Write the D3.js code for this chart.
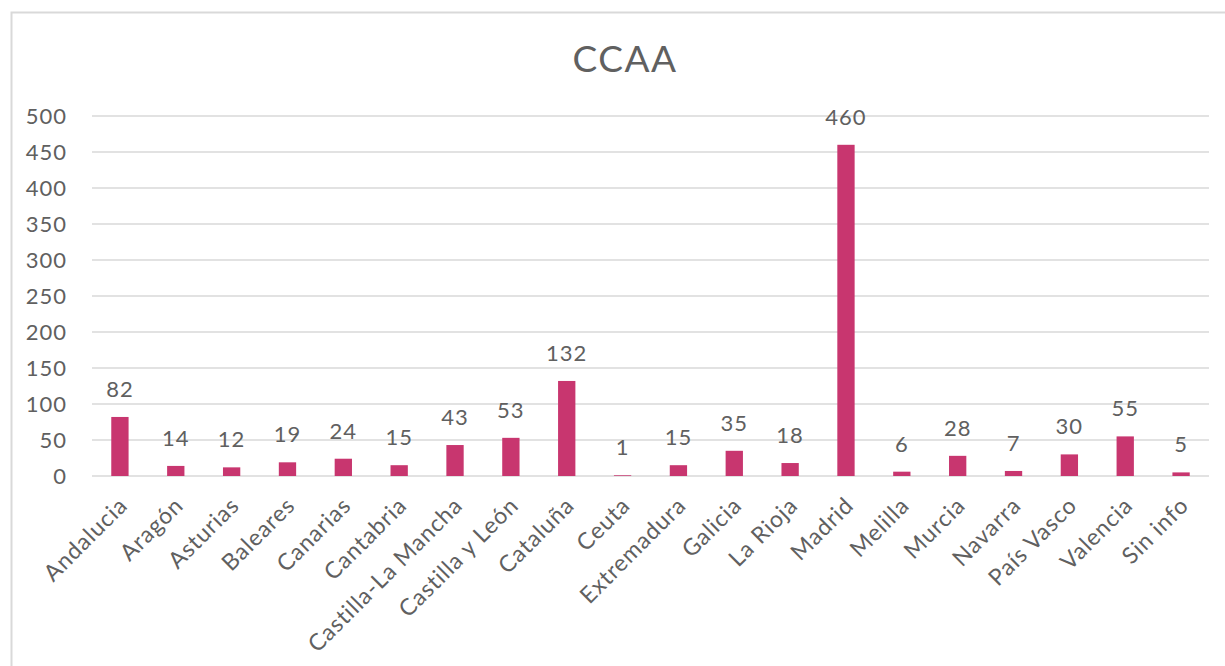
<!DOCTYPE html>
<html>
<head>
<meta charset="utf-8">
<script src="https://cdn.jsdelivr.net/npm/d3@7"></script>
<style>
  body { margin: 0; background: #fff; }
  svg text { font-family: Lato, "Open Sans", sans-serif; fill: #606060; }
</style>
</head>
<body>
<div id="chart"></div>
<script>
"use strict";

var categories = ["Andalucia", "Aragón", "Asturias", "Baleares", "Canarias", "Cantabria",
  "Castilla-La Mancha", "Castilla y León", "Cataluña", "Ceuta", "Extremadura", "Galicia",
  "La Rioja", "Madrid", "Melilla", "Murcia", "Navarra", "País Vasco", "Valencia", "Sin info"];
var values = [82, 14, 12, 19, 24, 15, 43, 53, 132, 1, 15, 35, 18, 460, 6, 28, 7, 30, 55, 5];
var yTicks = [0, 50, 100, 150, 200, 250, 300, 350, 400, 450, 500];
var title = "CCAA";

var width = 1225, height = 666;
var margin = { top: 116, right: 16, bottom: 190, left: 92 };

var svg = d3.select("#chart").append("svg")
    .attr("width", width)
    .attr("height", height);

// outer chart border (runs off the right and bottom edge)
svg.append("rect")
    .attr("x", 11.5).attr("y", 12.5)
    .attr("width", width + 20).attr("height", height + 20)
    .attr("fill", "none")
    .attr("stroke", "#d9d9d9")
    .attr("stroke-width", 2);

var x = d3.scaleBand()
    .domain(categories)
    .range([margin.left, width - margin.right])
    .paddingInner(0.69)
    .paddingOuter(0.345);

var y = d3.scaleLinear()
    .domain([0, 500])
    .range([height - margin.bottom, margin.top]);

// title
svg.append("text")
    .attr("x", 625).attr("y", 72)
    .attr("text-anchor", "middle")
    .style("font-size", "37px")
    .style("letter-spacing", "1.5px")
    .text(title);

// gridlines
svg.append("g")
  .selectAll("line")
  .data(yTicks)
  .enter().append("line")
    .attr("x1", margin.left).attr("x2", width - margin.right)
    .attr("y1", function (d) { return y(d); })
    .attr("y2", function (d) { return y(d); })
    .attr("stroke", "#d9d9d9")
    .attr("stroke-width", 1.5);

// y axis labels
var yAxis = d3.axisLeft(y).tickValues(yTicks).tickSize(0).tickPadding(25);
var gy = svg.append("g")
    .attr("transform", "translate(" + margin.left + ",0)")
    .call(yAxis)
    .attr("font-family", null);
gy.select(".domain").remove();
gy.selectAll("text")
    .style("font-size", "22px")
    .style("letter-spacing", "1px")
    .attr("fill", null);

// bars
svg.append("g")
  .selectAll("rect")
  .data(values)
  .enter().append("rect")
    .attr("x", function (d, i) { return x(categories[i]); })
    .attr("y", function (d) { return y(d); })
    .attr("width", x.bandwidth())
    .attr("height", function (d) { return y(0) - y(d); })
    .attr("fill", "#c8366f");

// data labels
svg.append("g")
  .selectAll("text")
  .data(values)
  .enter().append("text")
    .attr("x", function (d, i) { return x(categories[i]) + x.bandwidth() / 2; })
    .attr("y", function (d) { return y(d) - 20; })
    .attr("text-anchor", "middle")
    .style("font-size", "22px")
    .style("letter-spacing", "1px")
    .text(function (d) { return d; });

// x axis labels, rotated
var xAxis = d3.axisBottom(x).tickSize(0).tickPadding(0);
var gx = svg.append("g")
    .attr("transform", "translate(0," + y(0) + ")")
    .call(xAxis)
    .attr("font-family", null);
gx.select(".domain").remove();
gx.selectAll("text")
    .style("font-size", "23px")
    .style("letter-spacing", "0.9px")
    .attr("fill", null)
    .attr("text-anchor", "end")
    .attr("dy", 0)
    .attr("y", 0)
    .attr("transform", "translate(9,31) rotate(-45)");
</script>
</body>
</html>
